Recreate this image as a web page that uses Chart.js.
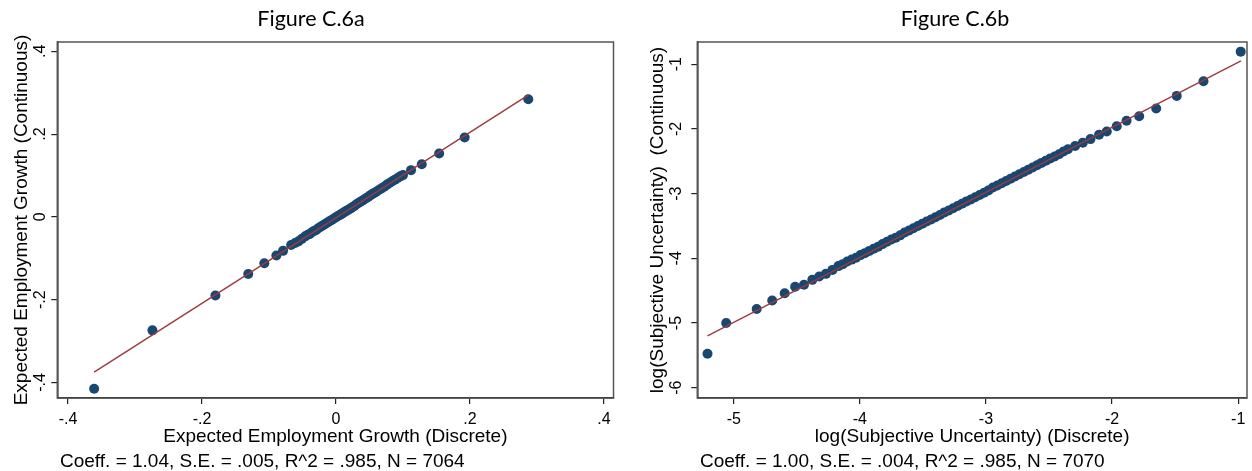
<!DOCTYPE html>
<html>
<head>
<meta charset="utf-8">
<script src="https://cdn.jsdelivr.net/npm/chart.js@4.4.1/dist/chart.umd.min.js"></script>
<style>
  html, body { margin: 0; padding: 0; background: #fff; }
  #wrap { position: relative; width: 1252px; height: 471px; }
  canvas { position: absolute; top: 0; }
</style>
</head>
<body>
<div id="wrap">
  <canvas id="chartA" width="626" height="471" style="left:0"></canvas>
  <canvas id="chartB" width="626" height="471" style="left:626px"></canvas>
</div>
<script>
// Figure C.6a - expected employment growth, binned
const empX = [-0.361, -0.274, -0.180, -0.131, -0.107, -0.089, -0.079, -0.067, -0.061, -0.056, -0.051,
  -0.046, -0.042, -0.039, -0.036, -0.033, -0.030, -0.027, -0.024, -0.021, -0.018, -0.015, -0.012,
  -0.009, -0.006, -0.003, 0.000, 0.003, 0.006, 0.009, 0.012, 0.015, 0.018, 0.021, 0.024, 0.027,
  0.030, 0.033, 0.036, 0.039, 0.042, 0.045, 0.048, 0.051, 0.054, 0.057, 0.060, 0.064, 0.068,
  0.072, 0.076, 0.080, 0.084, 0.088, 0.092, 0.096, 0.100, 0.112, 0.128, 0.154, 0.192, 0.287]
const empY = [-0.415, -0.274, -0.190, -0.138, -0.112, -0.093, -0.082, -0.068, -0.063, -0.059, -0.053,
  -0.047, -0.043, -0.041, -0.037, -0.034, -0.032, -0.028, -0.025, -0.022, -0.019, -0.016, -0.013,
  -0.010, -0.007, -0.004, -0.001, 0.002, 0.005, 0.008, 0.011, 0.014, 0.017, 0.020, 0.023, 0.026,
  0.030, 0.033, 0.036, 0.039, 0.042, 0.045, 0.048, 0.052, 0.055, 0.058, 0.061, 0.065, 0.069,
  0.073, 0.078, 0.082, 0.086, 0.090, 0.094, 0.098, 0.101, 0.113, 0.127, 0.153, 0.192, 0.284]
const empFitX = [-0.361, 0.287]
const empFitY = [-0.375, 0.294]
const empTicks = [-0.4, -0.2, 0, 0.2, 0.4]
const empTickLabels = ['-.4', '-.2', '0', '.2', '.4']

// Figure C.6b - log subjective uncertainty, binned
const uncX = [-5.208, -5.060, -4.818, -4.695, -4.596, -4.513, -4.443, -4.377, -4.322, -4.269, -4.217,
  -4.170, -4.135, -4.100, -4.065, -4.030, -3.995, -3.960, -3.925, -3.890, -3.855, -3.820, -3.785,
  -3.750, -3.715, -3.680, -3.645, -3.610, -3.575, -3.540, -3.505, -3.470, -3.435, -3.400, -3.365,
  -3.330, -3.295, -3.260, -3.225, -3.190, -3.155, -3.120, -3.085, -3.050, -3.015, -2.980, -2.945,
  -2.910, -2.875, -2.840, -2.805, -2.770, -2.735, -2.700, -2.665, -2.630, -2.595, -2.560, -2.525,
  -2.490, -2.455, -2.420, -2.385, -2.350, -2.293, -2.232, -2.171, -2.103, -2.042, -1.963, -1.885,
  -1.785, -1.650, -1.487, -1.275, -0.980]
const uncY = [-5.475, -5.000, -4.783, -4.653, -4.540, -4.440, -4.408, -4.333, -4.282, -4.240, -4.179,
  -4.120, -4.090, -4.050, -4.020, -3.990, -3.950, -3.920, -3.885, -3.850, -3.820, -3.780, -3.745,
  -3.710, -3.680, -3.645, -3.600, -3.570, -3.535, -3.500, -3.465, -3.430, -3.400, -3.365, -3.330,
  -3.290, -3.260, -3.225, -3.190, -3.155, -3.120, -3.090, -3.055, -3.020, -2.985, -2.950, -2.905,
  -2.875, -2.840, -2.805, -2.770, -2.735, -2.700, -2.665, -2.630, -2.595, -2.560, -2.525, -2.490,
  -2.455, -2.425, -2.390, -2.350, -2.315, -2.265, -2.214, -2.157, -2.091, -2.040, -1.957, -1.872,
  -1.805, -1.684, -1.489, -1.262, -0.805]
const uncFitX = [-5.208, -0.978]
const uncFitY = [-5.200, -0.949]
const uncXTicks = [-5, -4, -3, -2, -1]
const uncXTickLabels = ['-5', '-4', '-3', '-2', '-1']
const uncYTicks = [-6, -5, -4, -3, -2, -1]
const uncYTickLabels = ['-6', '-5', '-4', '-3', '-2', '-1']

const axisFont = 'Liberation Sans'
const dotColor = '#1a476f'
const fitColor = '#9b3b3f'

// plot region outline (top + right edges show grey like stata)
const frame = {
  id: 'frame',
  beforeDatasetsDraw(chart) {
    const a = chart.chartArea
    const ctx = chart.ctx
    ctx.save()
    ctx.strokeStyle = '#555'
    ctx.lineWidth = 1.5
    ctx.strokeRect(a.left, a.top, a.right - a.left, a.bottom - a.top)
    ctx.restore()
  }
}

// figure title on top and regression note under the axis
const panelText = {
  id: 'panelText',
  afterDraw(chart, args, opts) {
    const ctx = chart.ctx
    ctx.save()
    ctx.fillStyle = '#000'
    ctx.textBaseline = 'alphabetic'
    ctx.font = '21.5px Lato'
    ctx.textAlign = 'center'
    ctx.fillText(opts.title, opts.titleX, 26)
    ctx.font = '19px "' + axisFont + '"'
    ctx.textAlign = 'left'
    ctx.fillText(opts.note, opts.noteX, 467)
    ctx.restore()
  }
}

function toPoints(xs, ys) {
  return xs.map((x, i) => ({ x: x, y: ys[i] }))
}

function makeChart(id, c) {
  return new Chart(document.getElementById(id), {
    type: 'scatter',
    data: {
      datasets: [{
        type: 'line',
        data: toPoints(c.fitX, c.fitY),
        borderColor: fitColor,
        borderWidth: 1.4,
        pointRadius: 0,
        fill: false
      }, {
        data: toPoints(c.x, c.y),
        backgroundColor: dotColor,
        borderWidth: 0,
        pointRadius: 5,
        pointHoverRadius: 5
      }]
    },
    options: {
      responsive: false,
      devicePixelRatio: 1,
      animation: false,
      events: [],
      layout: { padding: { top: 42, right: c.padRight, bottom: 23, left: 0 } },
      plugins: {
        legend: { display: false },
        tooltip: { enabled: false },
        panelText: { title: c.title, titleX: c.titleX, note: c.note, noteX: c.noteX }
      },
      scales: {
        x: {
          type: 'linear',
          min: c.xMin,
          max: c.xMax,
          afterFit: s => { s.height = 50 },
          afterBuildTicks: s => { s.ticks = c.xTicks.map(v => ({ value: v })) },
          ticks: {
            autoSkip: false,
            maxRotation: 0,
            padding: 6,
            color: '#000',
            font: { family: axisFont, size: 16 },
            callback: (v, i) => c.xLabels[i]
          },
          grid: { drawOnChartArea: false, drawTicks: true, tickLength: 6, color: '#222', lineWidth: 1.2 },
          border: { display: true, color: '#111', width: 1.5 },
          title: {
            display: true,
            text: c.xTitle,
            color: '#000',
            font: { family: axisFont, size: 19 },
            padding: { top: 0, bottom: 0 }
          }
        },
        y: {
          type: 'linear',
          min: c.yMin,
          max: c.yMax,
          afterFit: s => { s.width = c.yWidth },
          afterBuildTicks: s => { s.ticks = c.yTicks.map(v => ({ value: v })) },
          ticks: {
            autoSkip: false,
            minRotation: 90,
            maxRotation: 90,
            crossAlign: 'center',
            padding: c.yTickPad,
            color: '#000',
            font: { family: axisFont, size: 16 },
            callback: (v, i) => c.yLabels[i]
          },
          grid: { drawOnChartArea: false, drawTicks: true, tickLength: 6, color: '#222', lineWidth: 1.2 },
          border: { display: true, color: '#111', width: 1.5 },
          title: {
            display: true,
            text: c.yTitle,
            color: '#000',
            font: { family: axisFont, size: 19 },
            padding: { top: c.yTitlePad, bottom: 0 }
          }
        }
      }
    },
    plugins: [frame, panelText]
  })
}

makeChart('chartA', {
  x: empX, y: empY, fitX: empFitX, fitY: empFitY,
  xMin: -0.416, xMax: 0.4142, yMin: -0.4374, yMax: 0.4225,
  xTicks: empTicks, xLabels: empTickLabels, yTicks: empTicks, yLabels: empTickLabels,
  xTitle: 'Expected Employment Growth (Discrete)',
  yTitle: 'Expected Employment Growth (Continuous)',
  title: 'Figure C.6a', titleX: 311,
  note: 'Coeff. = 1.04, S.E. = .005, R^2 = .985, N = 7064', noteX: 60,
  padRight: 12.5, yWidth: 57.3, yTickPad: 1.5, yTitlePad: 10
})

makeChart('chartB', {
  x: uncX, y: uncY, fitX: uncFitX, fitY: uncFitY,
  xMin: -5.289, xMax: -0.93, yMin: -6.159, yMax: -0.656,
  xTicks: uncXTicks, xLabels: uncXTickLabels, yTicks: uncYTicks, yLabels: uncYTickLabels,
  xTitle: 'log(Subjective Uncertainty) (Discrete)',
  yTitle: 'log(Subjective Uncertainty)  (Continuous)',
  title: 'Figure C.6b', titleX: 329,
  note: 'Coeff. = 1.00, S.E. = .004, R^2 = .985, N = 7070', noteX: 74,
  padRight: 2, yWidth: 71.3, yTickPad: 8, yTitlePad: 20.6
})
</script>
</body>
</html>
